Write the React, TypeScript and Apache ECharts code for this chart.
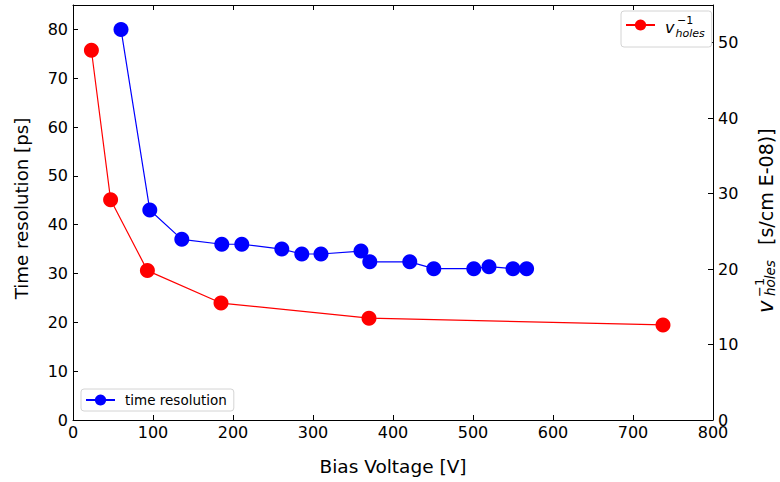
import React, { useEffect, useRef } from 'react';
import * as echarts from 'echarts';

// Time resolution series (left axis)
const timeVoltage = [60, 96, 136, 186, 211, 261, 286, 310, 360, 371, 421, 451, 501, 520, 550, 567];
const timeResolution = [80, 43, 37, 36, 36, 35, 34, 34, 34.6, 32.4, 32.4, 31, 31, 31.4, 31, 31];

// Inverse hole drift velocity series (right axis)
const holesVoltage = [23, 47, 93, 185, 370, 737.5];
const holesInvVelocity = [49.0, 29.2, 19.8, 15.5, 13.5, 12.6];

const FONT = 'DejaVu Sans';
const AX = '#000';

export default function App() {
  const ref = useRef<HTMLDivElement>(null);
  useEffect(() => {
    if (!ref.current) return;
    const chart = echarts.init(ref.current, undefined, { renderer: 'svg' });
    const axisCommon = {
      axisLine: { show: true, onZero: false, lineStyle: { color: AX, width: 1 } },
      axisTick: { show: true, inside: true, length: 5, lineStyle: { color: AX, width: 1 } },
      splitLine: { show: false },
    };
    const legendCommon = {
      orient: 'horizontal',
      backgroundColor: '#fff',
      borderColor: '#d4d4d4',
      borderWidth: 1,
      borderRadius: 3,
      itemWidth: 29,
      itemHeight: 14,
      textStyle: { fontFamily: FONT, fontSize: 13.5, color: '#000' },
    };
    const option: any = {
      animation: false,
      textStyle: { fontFamily: FONT },
      grid: { left: 73, right: 67, top: 5, bottom: 62, containLabel: false },
      legend: [
        {
          ...legendCommon,
          data: ['time resolution'],
          left: 81,
          top: 389,
          padding: [4, 7, 4, 4],
          textStyle: { ...legendCommon.textStyle, padding: [0, 0, 0, 5] },
        },
        {
          ...legendCommon,
          data: ['vholes'],
          left: 621,
          top: 11,
          padding: [8, 7, 8, 4],
          formatter: () => '{v|v}{s|holes}',
          textStyle: {
            ...legendCommon.textStyle,
            padding: [0, 0, 0, 5],
            rich: {
              v: { fontFamily: FONT, fontSize: 16, fontStyle: 'italic', color: '#000', verticalAlign: 'bottom', lineHeight: 20 },
              s: { fontFamily: FONT, fontSize: 11, fontStyle: 'italic', color: '#000', verticalAlign: 'bottom', lineHeight: 20, padding: [0, 0, -4, 1] },
            },
          },
        },
      ],
      xAxis: [
        {
          type: 'value',
          min: 0,
          max: 800,
          interval: 100,
          position: 'bottom',
          name: 'Bias Voltage [V]',
          nameLocation: 'middle',
          nameGap: 37,
          nameTextStyle: { fontFamily: FONT, fontSize: 18.5, color: AX },
          axisLabel: { fontFamily: FONT, fontSize: 16, color: AX, margin: 4 },
          ...axisCommon,
        },
        {
          type: 'value',
          min: 0,
          max: 800,
          interval: 100,
          position: 'top',
          axisLabel: { show: false },
          ...axisCommon,
        },
      ],
      yAxis: [
        {
          type: 'value',
          min: 0,
          max: 85,
          interval: 10,
          position: 'left',
          name: 'Time resolution [ps]',
          nameLocation: 'middle',
          nameGap: 43,
          nameRotate: 90,
          nameTextStyle: { fontFamily: FONT, fontSize: 18.2, color: AX, padding: [0, 0, 0, 8] },
          axisLabel: { fontFamily: FONT, fontSize: 16, color: AX, margin: 5, showMaxLabel: false },
          ...axisCommon,
        },
        {
          type: 'value',
          min: 0,
          max: 55,
          interval: 10,
          position: 'right',
          axisLabel: { fontFamily: FONT, fontSize: 16, color: AX, margin: 5, showMaxLabel: false },
          ...axisCommon,
        },
      ],
      graphic: [
        {
          type: 'text',
          left: 677,
          top: 15,
          z: 100,
          style: { text: '−1', fontFamily: FONT, fontSize: 11, fill: '#000' },
        },
        {
          type: 'group',
          x: 766,
          y: 313,
          rotation: Math.PI / 2,
          children: [
            { type: 'text', x: 0, y: 0, style: { text: 'v', fontFamily: FONT, fontSize: 21, fontStyle: 'italic', fill: '#000', verticalAlign: 'middle' } },
            { type: 'text', x: 16, y: -7, style: { text: '−1', fontFamily: FONT, fontSize: 13, fill: '#000', verticalAlign: 'middle' } },
            { type: 'text', x: 17, y: 4, style: { text: 'holes', fontFamily: FONT, fontSize: 13.5, fontStyle: 'italic', fill: '#000', verticalAlign: 'middle' } },
            { type: 'text', x: 68, y: 0, style: { text: '[s/cm E-08)]', fontFamily: FONT, fontSize: 19, fill: '#000', verticalAlign: 'middle' } },
          ],
        },
      ],
      series: [
        {
          name: 'time resolution',
          type: 'line',
          xAxisIndex: 0,
          yAxisIndex: 0,
          data: timeVoltage.map((v, i) => [v, timeResolution[i]]),
          symbol: 'circle',
          symbolSize: 15,
          itemStyle: { color: '#0000ff' },
          lineStyle: { color: '#0000ff', width: 1.2 },
          z: 3,
        },
        {
          name: 'vholes',
          type: 'line',
          xAxisIndex: 0,
          yAxisIndex: 1,
          data: holesVoltage.map((v, i) => [v, holesInvVelocity[i]]),
          symbol: 'circle',
          symbolSize: 15,
          itemStyle: { color: '#ff0000' },
          lineStyle: { color: '#ff0000', width: 1.2 },
          z: 2,
        },
      ],
    };
    chart.setOption(option);
    return () => chart.dispose();
  }, []);
  return <div ref={ref} style={{ width: 780, height: 482, position: 'absolute', left: 0, top: 0 }} />;
}
